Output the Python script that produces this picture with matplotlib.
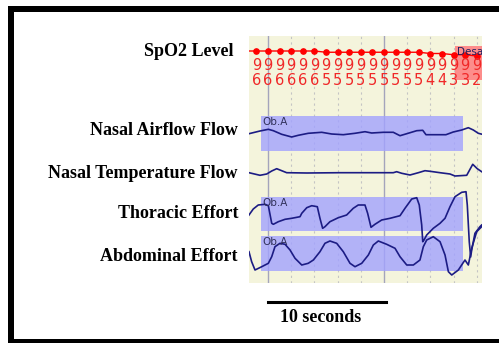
import numpy as np
import matplotlib
matplotlib.use('Agg')
import matplotlib.pyplot as plt
from matplotlib.patches import Rectangle
from matplotlib.transforms import blended_transform_factory

# oxygen saturation, one sample per second
spo2_t = [-1, 0, 1, 2, 3, 4, 5, 6, 7, 8, 9, 10, 11, 12, 13, 14, 15, 16, 17, 18]
spo2 = [96, 96, 96, 96, 96, 96, 95, 95, 95, 95, 95, 95, 95, 95, 95, 94, 94, 93, 93, 92]

# nasal airflow (arbitrary units)
airflow_t = [-1.64, -0.69, 0.03, 0.46, 1.18, 2.04, 2.61, 3.47, 4.63, 5.49, 6.49, 7.50,
             8.36, 8.94, 9.94, 10.80, 11.38, 11.96, 12.82, 13.34, 13.62, 14.54, 15.34,
             15.97, 16.70, 17.27, 17.70, 18.13, 18.47]
airflow = [-0.7, 2.0, 3.7, 2.3, -1.3, -4.0, -2.3, -0.3, 0.7, -1.0, -1.7, -0.3,
           1.3, 0.0, 0.7, 0.7, -2.7, -0.7, 2.3, 2.7, -1.7, -1.7, -1.7,
           1.0, 3.0, 5.3, 3.0, -0.3, -1.3]

# nasal temperature
temp_t = [-1.64, -0.69, -0.11, 0.32, 0.75, 1.18, 1.61, 3.34, 6.21, 9.08, 10.80, 11.09,
          11.53, 12.24, 12.96, 13.53, 13.97, 14.83, 15.69, 16.12, 17.13, 17.65, 18.04, 18.42]
temp = [0.3, -2.3, -1.0, 2.0, 4.3, 2.3, 0.3, 0.0, 0.3, 0.3, 0.3, 1.3,
        -0.3, -2.0, 0.3, 2.3, 1.7, 0.3, -1.0, -3.0, -2.3, 8.7, 4.3, 1.3]

# thoracic effort
thor_t = [-1.64, -1.27, -0.84, -0.26, 0.03, 0.32, 0.46, 0.89, 1.47, 2.04, 2.76, 2.91,
          3.34, 3.77, 4.25, 4.48, 4.71, 4.91, 5.34, 6.06, 6.78, 7.35, 7.78, 8.36,
          8.59, 8.88, 9.22, 9.80, 10.52, 11.38, 11.81, 12.39, 12.82, 13.04, 13.25,
          13.34, 13.45, 13.68, 14.25, 14.83, 15.26, 15.69, 16.12, 16.70, 17.07,
          17.18, 17.35, 17.47, 17.56, 17.84, 18.27, 18.42]
thor = [0.0, 6.0, 10.0, 10.7, 9.3, -8.3, -9.3, -6.7, -4.3, -3.3, -1.7, 1.7,
        7.3, 9.3, 8.3, -3.3, -13.3, -11.7, -6.7, -2.7, 0.0, 6.7, 10.0, 10.0,
        1.7, -12.3, -9.3, -5.0, -3.3, -0.7, 6.7, 16.0, 17.3, 10.0, -10.0,
        -26.7, -25.0, -20.0, -13.3, -8.3, -3.3, 8.3, 18.3, 22.7, 23.3,
        10.0, -26.7, -42.0, -35.0, -18.3, -11.7, -10.0]

# abdominal effort
abd_t = [-1.64, -1.41, -1.12, -0.54, 0.03, 0.32, 0.60, 1.03, 1.47, 1.90, 2.33, 2.91,
         3.47, 3.91, 4.48, 4.91, 5.34, 5.92, 6.49, 7.07, 7.50, 8.08, 8.65, 9.08,
         9.51, 10.23, 10.95, 11.38, 11.96, 12.53, 13.10, 13.39, 13.68, 14.25,
         14.83, 15.26, 15.55, 15.84, 16.41, 16.98, 17.27, 17.56, 17.99, 18.42]
abd = [3.3, -6.7, -15.0, -11.7, -8.3, -1.7, 8.3, 11.7, 10.7, 5.0, -3.3, -10.0,
       -8.3, -5.0, 3.3, 11.7, 14.0, 11.7, 3.3, -8.3, -11.7, -8.3, 0.0, 10.0,
       14.0, 10.7, 6.7, -1.7, -10.0, -10.0, -5.0, 8.3, 15.0, 18.3,
       13.3, 0.0, -16.7, -20.0, -15.0, -5.0, -10.0, 6.7, 23.3, 28.3]

channel_names = ['SpO2 Level', 'Nasal Airflow Flow', 'Nasal Temperature Flow',
                 'Thoracic Effort', 'Abdominal Effort']

# scored events (start, end in seconds)
obstructive_apnea = (-0.6, 16.78)
desat_start = 16.16

# layout: vertical offset of each channel trace
offsets = {'airflow': 150, 'temp': 110, 'thor': 68, 'abd': 28}
label_y = [227, 147.7, 105.3, 64.7, 22]
label_right = [233, 238, 238, 238, 238]
box_rows = {'airflow': (132.3, 167.3), 'thor': (52.3, 86), 'abd': (12.3, 47.3)}

W, H = 499, 343
fig = plt.figure(figsize=(W / 100, H / 100), dpi=100)
ax = fig.add_axes([249 / W, 60 / H, 233 / W, 247 / H])
ax.set_facecolor('#f4f4dc')
ax.set_xlim(-1.638, 18.448)
ax.set_ylim(0, 247)
ax.set_xticks([])
ax.set_yticks([])
for s in ax.spines.values():
    s.set_visible(False)

# time grid: solid every 10 s, dashed every 2 s
for g in range(0, 19, 2):
    if g % 10 == 0:
        ax.axvline(g, color='#a4a4bc', lw=1.0, zorder=1)
    else:
        ax.axvline(g, color='#c4c4c4', lw=0.8, dashes=(2, 3), zorder=1)

# obstructive apnea boxes
for key, (y0, y1) in box_rows.items():
    ax.add_patch(Rectangle((obstructive_apnea[0], y0), obstructive_apnea[1] - obstructive_apnea[0],
                           y1 - y0, facecolor='#a2a2ff', alpha=0.8, lw=0, zorder=2))
    ax.text(obstructive_apnea[0] + 0.15, y1 - 1.5, 'Ob.A', fontsize=7.5, color='#30305a',
            va='top', ha='left', zorder=4)

# desaturation box
ax.add_patch(Rectangle((desat_start, 203), 5, 34, facecolor='#ff8282', alpha=0.9,
                       lw=0, zorder=2))
ax.text(desat_start + 0.12, 236, 'Desat', fontsize=7.5, color='#202060', va='top',
        ha='left', zorder=4, clip_on=True)

# SpO2 trace with value labels
def spo2_y(v):
    return 232 + (np.asarray(v) - 96) * 1.25

line_c = '#1c1c84'
ax.plot([ax.get_xlim()[0]] + spo2_t, spo2_y([spo2[0]] + spo2), color='red', lw=1.0, zorder=3)
ax.plot(spo2_t, spo2_y(spo2), 'o', color='red', ms=3.8, zorder=3)
for t, v in zip(spo2_t, spo2):
    ax.text(t, 218, str(v // 10), color='#f02828', fontsize=10.5, ha='center', va='center',
            zorder=4)
    ax.text(t, 202.5, str(v % 10), color='#f02828', fontsize=10.5, ha='center', va='center',
            zorder=4)

ax.plot(airflow_t, np.array(airflow) + offsets['airflow'], color=line_c, lw=1.2, zorder=3)
ax.plot(temp_t, np.array(temp) + offsets['temp'], color=line_c, lw=1.2, zorder=3)
ax.plot(thor_t, np.array(thor) + offsets['thor'], color=line_c, lw=1.2, zorder=3)
ax.plot(abd_t, np.array(abd) + offsets['abd'], color=line_c, lw=1.2, zorder=3)

# channel names
for name, y, xr in zip(channel_names, label_y, label_right):
    tr = blended_transform_factory(fig.transFigure, ax.transData)
    ax.text(xr / W, y, name, transform=tr, ha='right', va='baseline',
            family='Liberation Serif', weight='bold', fontsize=13, clip_on=False)

# 10 second scale bar
tr = blended_transform_factory(ax.transData, fig.transFigure)
ax.plot([0, 10.2], [41 / H, 41 / H], transform=tr, color='black', lw=2.2, clip_on=False)
ax.text(1.0, 21.5 / H, '10 seconds', transform=tr, ha='left', va='baseline',
        family='Liberation Serif', weight='bold', fontsize=13, clip_on=False)

# black frame
for x, y, w, h in [(8, 331, 491, 6), (8, 0, 6, 337), (8, 0, 491, 4.5)]:
    fig.add_artist(Rectangle((x / W, y / H), w / W, h / H, transform=fig.transFigure,
                             facecolor='black', lw=0))

fig.savefig('out.png', dpi=100, facecolor='white')
